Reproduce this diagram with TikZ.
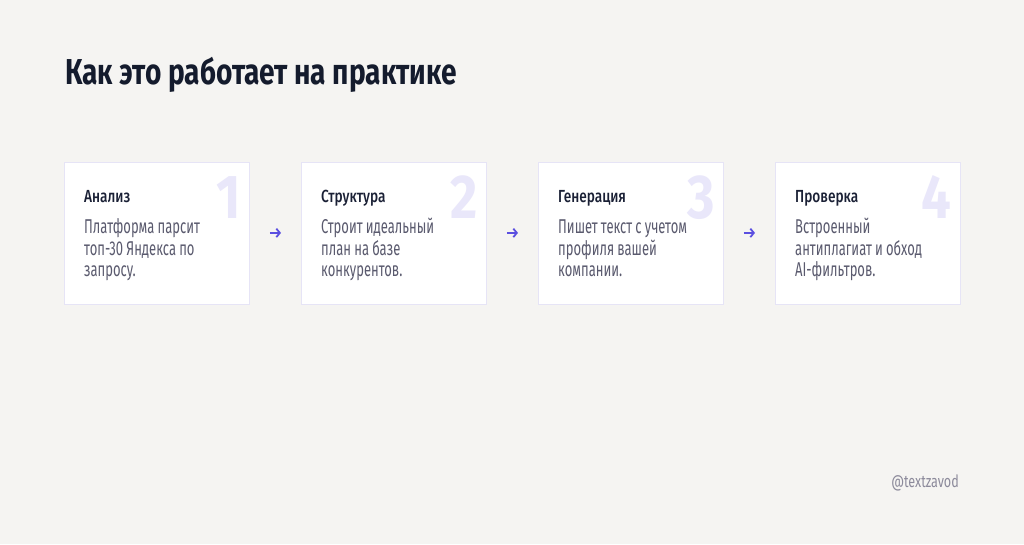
\documentclass[tikz,border=0pt]{standalone}
\usepackage{fontspec}
\setmainfont{Fira Sans}[FakeStretch=0.65]
\newfontfamily\titlefont{Fira Sans}[FakeStretch=0.78]
\newfontfamily\headfont{Fira Sans Medium}[FakeStretch=0.78]
\newfontfamily\numfont{Fira Sans}[FakeStretch=0.85]
\newfontfamily\tagfont{Fira Sans}[FakeStretch=0.74]
\newcommand\cardbody{\fontsize{20}{21.7}\selectfont}
\newcommand\tightspace{\spaceskip 3.2pt plus 1pt\relax}
\usetikzlibrary{arrows.meta}

\definecolor{bgc}{HTML}{F5F4F2}
\definecolor{ink}{HTML}{141B2D}
\definecolor{headc}{HTML}{1A2035}
\definecolor{bodyc}{HTML}{5A5A6E}
\definecolor{edgec}{HTML}{E6E4F6}
\definecolor{numc}{HTML}{E9E7FA}
\definecolor{arrc}{HTML}{5B4FE0}
\definecolor{tagc}{HTML}{8C8A9B}

\tikzset{
  card/.style={draw=edgec, fill=white, line width=0.8pt, minimum width=185pt, minimum height=142pt, inner sep=0, anchor=north west},
  numtxt/.style={text=numc, inner sep=0, anchor=base east, font=\numfont\bfseries\fontsize{62}{62}\selectfont},
  headtxt/.style={text=headc, inner sep=0, anchor=base west, font=\headfont\fontsize{17.5}{17.5}\selectfont},
  bodytxt/.style={text=bodyc, inner sep=0, anchor=base west, text width=160pt, align=left, font=\cardbody, execute at begin node=\tightspace},
  arr/.style={draw=arrc, line width=1.8pt, -{Straight Barb[length=3.5pt,width=8.5pt]}}
}

\begin{document}
\begin{tikzpicture}[x=1pt,y=-1pt]
\fill [bgc] (0,0) rectangle (1024,544); \useasboundingbox (0,0) rectangle (1024,544);
\node [text=ink, inner sep=0, anchor=base west, font=\titlefont\bfseries\fontsize{36}{36}\selectfont] (title) at (65,84) {Как это работает на практике};
\foreach \i/\x/\h/\t in {1/64/Анализ/{Платформа парсит\\топ-30 Яндекса по\\запросу.},2/301/Структура/{Строит идеальный\\план на базе\\конкурентов.},3/538/Генерация/{Пишет текст с учетом\\профиля вашей\\компании.},4/775/Проверка/{Встроенный\\антиплагиат и обход\\AI-фильтров.}} {
  \node [card] (s\i) at (\x,161.5) {};
  \node [numtxt] (n\i) at ([xshift=-9pt,yshift=-56.5pt]s\i.north east) {\i};
  \node [headtxt] (h\i) at ([xshift=20pt,yshift=-40.8pt]s\i.north west) {\h};
  \node [bodytxt] (b\i) at ([xshift=20pt,yshift=-72pt]s\i.north west) {\t};
};
\foreach \i/\j in {1/2,2/3,3/4} { \draw [arr] ([xshift=20pt]s\i.east) -- ([xshift=-20pt]s\j.west); };
\node [text=tagc, inner sep=0, anchor=base east, font=\tagfont\fontsize{17}{17}\selectfont] (tag) at (959,487) {@textzavod};
\end{tikzpicture}
\end{document}
